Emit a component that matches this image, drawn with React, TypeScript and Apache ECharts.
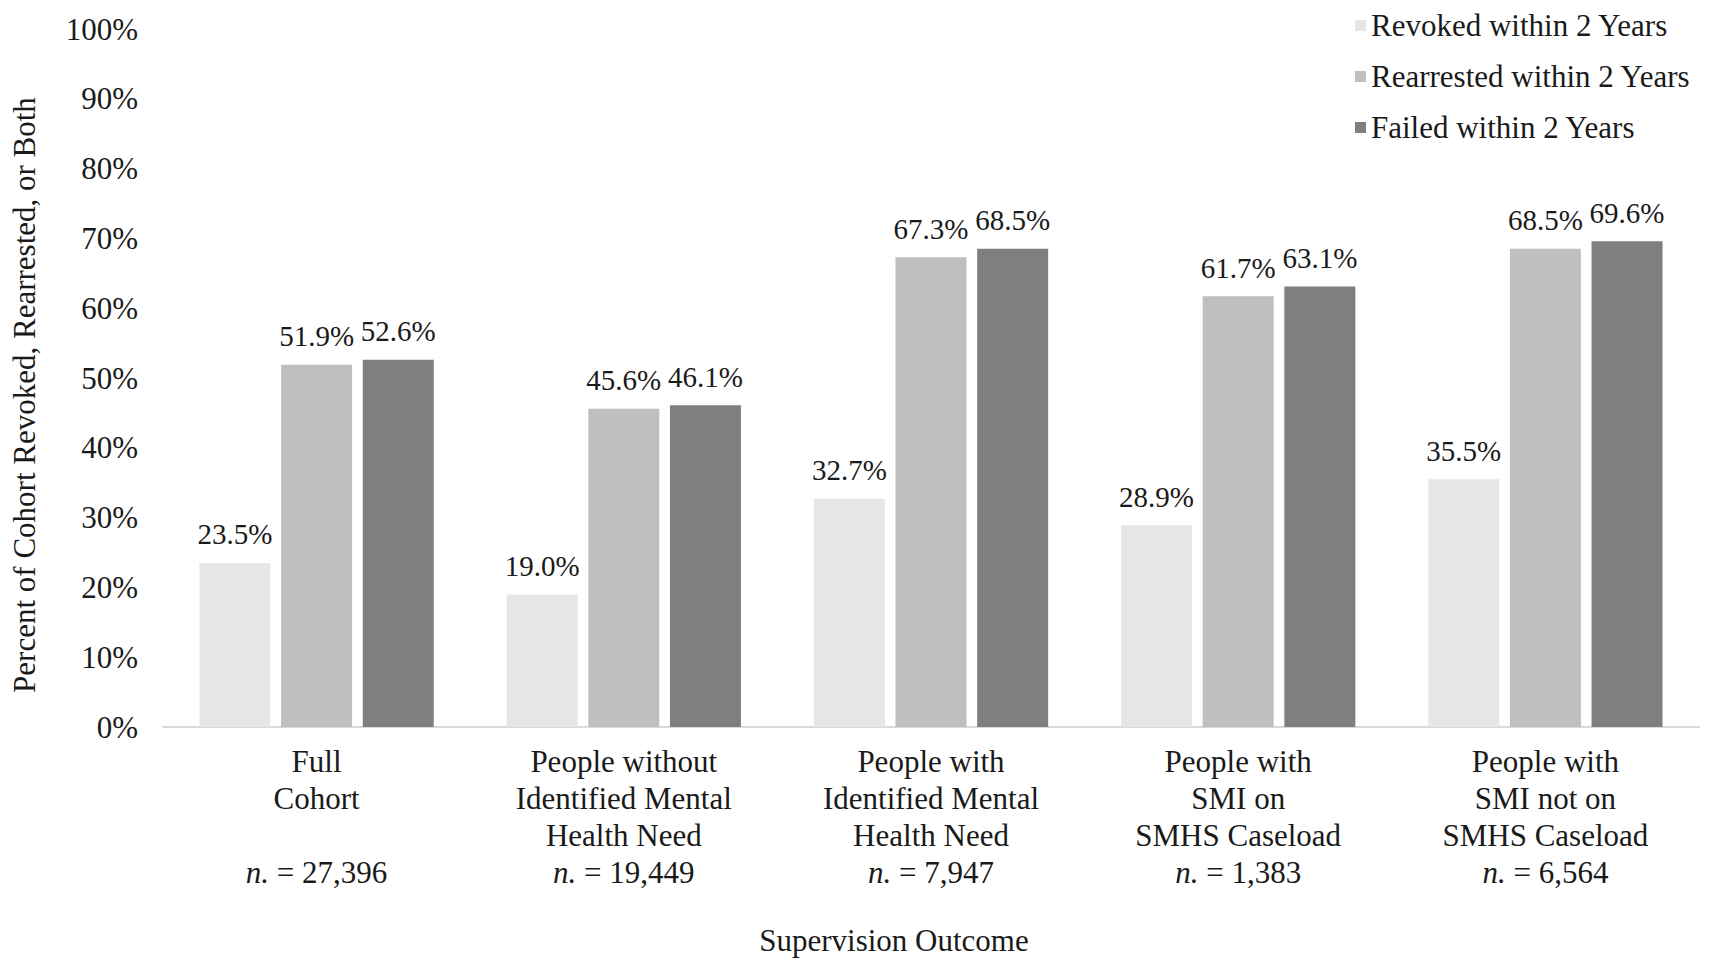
import React, { useEffect, useRef } from "react";
import * as echarts from "echarts";

const categories = [
  "Full\nCohort\n",
  "People without\nIdentified Mental\nHealth Need",
  "People with\nIdentified Mental\nHealth Need",
  "People with\nSMI on\nSMHS Caseload",
  "People with\nSMI not on\nSMHS Caseload",
];
const sampleSizes = ["27,396", "19,449", "7,947", "1,383", "6,564"];
const seriesNames = ["Revoked within 2 Years", "Rearrested within 2 Years", "Failed within 2 Years"];
const revoked = [23.5, 19.0, 32.7, 28.9, 35.5];
const rearrested = [51.9, 45.6, 67.3, 61.7, 68.5];
const failed = [52.6, 46.1, 68.5, 63.1, 69.6];
const colors = ["#e6e6e6", "#bfbfbf", "#7f7f7f"];

const FONT = "Liberation Serif";
const INK = "#1a1a1a";

const App = () => {
  const chartRef = useRef(null);

  useEffect(() => {
    document.body.style.margin = "0";
    const chart = echarts.init(chartRef.current, null, { renderer: "svg" });
    const values = [revoked, rearrested, failed];
    const option = {
      animation: false,
      textStyle: { fontFamily: FONT, color: INK },
      legend: {
        orient: "vertical",
        left: 1350,
        top: 5,
        itemWidth: 11,
        itemHeight: 11,
        itemGap: 20,
        icon: "rect",
        textStyle: { fontFamily: FONT, fontSize: 31, color: INK, lineHeight: 30 },
        data: seriesNames,
      },
      grid: { left: 163, right: 10, top: 29, bottom: 246 },
      graphic: [
        {
          type: "text",
          x: 24,
          y: 395,
          rotation: Math.PI / 2,
          style: {
            text: "Percent of Cohort Revoked, Rearrested, or Both",
            fontFamily: FONT,
            fontSize: 31,
            fill: INK,
            textAlign: "center",
            textVerticalAlign: "middle",
          },
        },
        {
          type: "text",
          x: 894,
          y: 940,
          style: {
            text: "Supervision Outcome",
            fontFamily: FONT,
            fontSize: 31,
            fill: INK,
            textAlign: "center",
            textVerticalAlign: "middle",
          },
        },
      ],
      xAxis: {
        type: "category",
        data: categories.map((c, i) => c + "\n{i|n.} = " + sampleSizes[i]),
        axisLine: { lineStyle: { color: "#d9d9d9", width: 2 } },
        axisTick: { show: false },
        axisLabel: {
          interval: 0,
          margin: 16,
          fontFamily: FONT,
          fontSize: 31,
          lineHeight: 37,
          color: INK,
          rich: { i: { fontStyle: "italic", fontFamily: FONT, fontSize: 31, lineHeight: 37, color: INK } },
        },
      },
      yAxis: {
        type: "value",
        min: 0,
        max: 100,
        interval: 10,
        splitLine: { show: false },
        axisLine: { show: false },
        axisTick: { show: false },
        axisLabel: {
          formatter: "{value}%",
          margin: 25,
          fontFamily: FONT,
          fontSize: 31,
          color: INK,
        },
      },
      series: seriesNames.map((name, k) => ({
        name,
        type: "bar",
        data: values[k],
        barWidth: 71,
        barGap: "15%",
        itemStyle: { color: colors[k] },
        label: {
          show: true,
          position: "top",
          distance: 14,
          fontFamily: FONT,
          fontSize: 29,
          color: INK,
          formatter: (p: any) => p.value.toFixed(1) + "%",
        },
      })),
    };
    chart.setOption(option as any);
    return () => {
      chart.dispose();
    };
  }, []);

  return <div ref={chartRef} style={{ width: "1709px", height: "973px" }}></div>;
};

export default App;
